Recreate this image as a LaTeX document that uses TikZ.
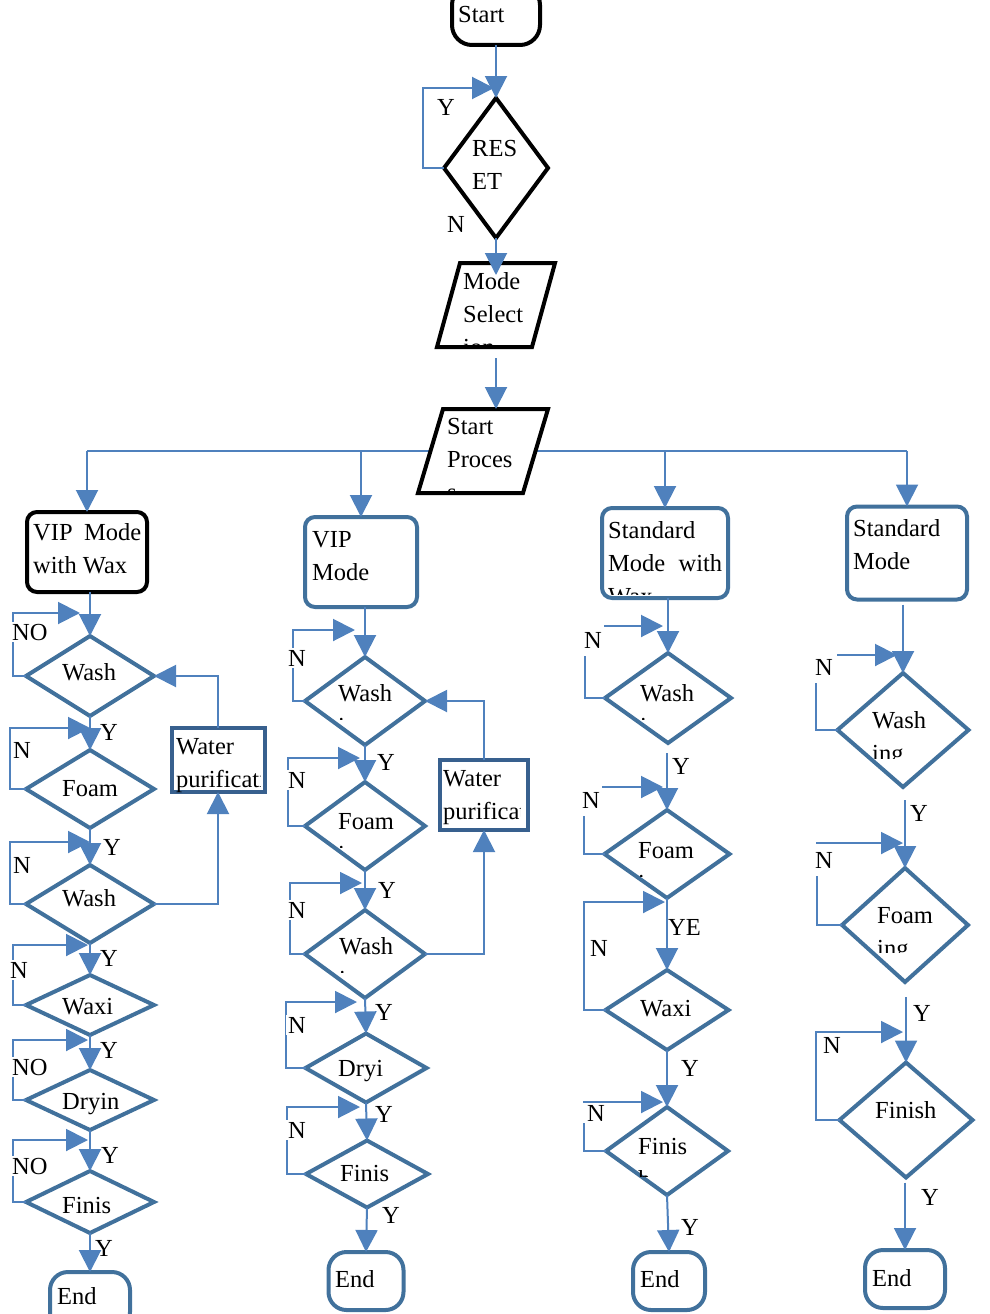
\documentclass[tikz,border=0pt]{standalone}
\usepackage{fontspec}
\setmainfont{Liberation Serif}
\usetikzlibrary{positioning,shapes.geometric,arrows.meta,backgrounds}
\definecolor{ArrBlue}{RGB}{79,129,189}
\definecolor{EdgeBlue}{RGB}{65,113,156}
\definecolor{BoxBlue}{RGB}{56,96,142}
\tikzset{
  every node/.style={font=\fontsize{24.5}{33}\selectfont},
  term/.style={draw=black,line width=4pt,fill=white,rounded corners=20pt,inner sep=0pt,outer sep=0pt},
  endterm/.style={term,draw=EdgeBlue,rounded corners=18pt},
  dec/.style={diamond,draw=EdgeBlue,line width=4pt,fill=white,inner sep=0pt,outer sep=0pt},
  io/.style={transform shape,draw=black,line width=4pt,fill=white,inner sep=0pt,outer sep=0pt},
  modebox/.style={draw=EdgeBlue,line width=4pt,fill=white,rounded corners=10pt,inner sep=0pt,outer sep=0pt},
  procbox/.style={draw=BoxBlue,line width=4pt,fill=white,inner sep=0pt,outer sep=0pt},
  txt/.style={anchor=base west,inner sep=0pt,align=left},
  arr/.style={draw=ArrBlue,line width=2pt,-{Triangle[length=22pt,width=22pt]}},
  bus/.style={draw=ArrBlue,line width=2pt},
  ylab/.style={anchor=base west,inner sep=0pt},
  nlab/.style={anchor=base west,inner sep=2pt,fill=white},
}

\begin{document}
\begin{tikzpicture}[x=1pt,y=-1pt]
\useasboundingbox (0,0) rectangle (990,1314);
% start, reset and mode selection
\node[term,minimum width=88pt,minimum height=60pt] (start) at (496,15) {};
\node[dec,draw=black,minimum width=104pt,minimum height=140pt] (reset) at (496,168) {};
\begin{scope}[shift={(496,305)},xslant=0.274]
\node[io,minimum width=95pt,minimum height=84pt] (ms) at (0,0) {};
\end{scope}
\begin{scope}[shift={(483,451)},xslant=0.298]
\node[io,minimum width=105pt,minimum height=84pt] (sp) at (0,0) {};
\end{scope}
\node[txt] (startt) at (458,23) {Start};
\node[txt] (resett) at (472,189) {RES\\ET};
\begin{scope}
\clip (437,263) rectangle (560,345);
\node[txt] (mst) at (463,355) {Mode\\Select\\ion};
\end{scope}
\begin{scope}
\clip (418,409) rectangle (548,491);
\node[txt] (spt) at (447,500) {Start\\Proces\\s};
\end{scope}
\coordinate (resetin) at (494,88);
\draw[arr] (start.south) -- (reset.north);
\draw[arr] (reset.west) -- ++(-21,0) |- (resetin);
\draw[arr,shorten >=-12pt] (reset.south) -- (reset.south |- ms.north);
\draw[arr,shorten <=11pt] (reset.south |- ms.south) -- (reset.south |- sp.north);
\node[ylab] (ry) at (437,115) {Y};
\node[ylab] (rn) at (447,232) {N};

% the four modes
\node[modebox,draw=black,minimum width=120pt,minimum height=80pt] (m1) at (87,552) {};
\node[modebox,minimum width=112pt,minimum height=90pt] (m2) at (361,562) {};
\node[modebox,minimum width=126pt,minimum height=90pt] (m3) at (665,553) {};
\node[modebox,minimum width=120pt,minimum height=93pt] (m4) at (907,553) {};
\node[txt] (m1t) at (33,573) {\makebox[108pt][s]{VIP Mode}\\with Wax};
\node[txt] (m2t) at (312,580) {VIP\\Mode};
\begin{scope}
\clip (602,508) rectangle (728,594);
\node[txt] (m3t) at (608,604) {Standard\\\makebox[114pt][s]{Mode with}\\Wax};
\end{scope}
\node[txt] (m4t) at (853,569) {Standard\\Mode};
\begin{scope}[on background layer]
\draw[bus] (m1.north |- sp.center) -- (m4.north |- sp.center);
\end{scope}
\draw[arr] (m1.north |- sp.center) -- (m1.north);
\draw[arr] (m2.north |- sp.center) -- (m2.north);
\draw[arr] (m3.north |- sp.center) -- (m3.north);
\draw[arr] (m4.north |- sp.center) -- (m4.north);

% VIP mode with wax
\node[dec,minimum width=128pt,minimum height=80pt] (w1) at (90,676) {};
\node[dec,minimum width=128pt,minimum height=78pt] (f1) at (90,789) {};
\node[dec,minimum width=128pt,minimum height=78pt] (w1b) at (90,904) {};
\node[dec,minimum width=128pt,minimum height=60pt] (x1) at (90,1005) {};
\node[dec,minimum width=128pt,minimum height=60pt] (d1) at (90,1100) {};
\node[dec,minimum width=128pt,minimum height=62pt] (fi1) at (90,1202) {};
\node[endterm,minimum width=80pt,minimum height=58pt] (e1) at (90,1301) {};
\node[procbox,minimum width=93pt,minimum height=64pt] (wp1) at (218,760) {};
\node[txt] (w1t) at (62,680) {Wash};
\node[txt] (f1t) at (62,796) {Foam};
\node[txt] (w1bt) at (62,906) {Wash};
\node[txt] (x1t) at (62,1014) {Waxi};
\node[txt] (d1t) at (62,1109) {Dryin};
\node[txt] (fi1t) at (62,1213) {Finis};
\node[txt] (e1t) at (57,1304) {End};
\begin{scope}
\clip (172,728) rectangle (260,792);
\node[txt] (wp1t) at (176,787) {Water\\purification};
\end{scope}
\coordinate (w1in) at (80,613);
\coordinate (f1in) at (90,728);
\coordinate (w1bin) at (90,842);
\coordinate (x1in) at (88,945);
\coordinate (d1in) at (88,1040);
\coordinate (fi1in) at (88,1140);
\draw[arr] (m1.south -| w1.north) -- (w1.north);
\draw[arr] (w1.south) -- (f1.north);
\draw[arr] (f1.south) -- (w1b.north);
\draw[arr] (w1b.south) -- (x1.north);
\draw[arr] (x1.south) -- (d1.north);
\draw[arr] (d1.south) -- (fi1.north);
\draw[arr] (fi1.south) -- (e1.north);
\draw[arr] (w1.west) -- ++(-13,0) |- (w1in);
\draw[arr] (f1.west) -- ++(-16,0) |- (f1in);
\draw[arr] (w1b.west) -- ++(-16,0) |- (w1bin);
\draw[arr] (x1.west) -- ++(-13,0) |- (x1in);
\draw[arr] (d1.west) -- ++(-13,0) |- (d1in);
\draw[arr] (fi1.west) -- ++(-13,0) |- (fi1in);
\draw[arr] (w1b.east) -| (wp1.south);
\draw[arr] (wp1.north) |- (w1.east);
\node[nlab] (w1n) at (10,640) {NO};
\node[ylab] (w1y) at (100,740) {Y};
\node[nlab] (f1n) at (11,758) {N};
\node[ylab] (f1y) at (103,855) {Y};
\node[nlab] (w1bn) at (11,873) {N};
\node[ylab] (w1by) at (100,966) {Y};
\node[nlab] (x1n) at (8,978) {N};
\node[ylab] (x1y) at (100,1058) {Y};
\node[nlab] (d1n) at (10,1075) {NO};
\node[ylab] (d1y) at (101,1163) {Y};
\node[nlab] (fi1n) at (10,1174) {NO};
\node[ylab] (fi1y) at (95,1256) {Y};

% VIP mode
\node[dec,minimum width=120pt,minimum height=88pt] (w2) at (365,701) {};
\node[dec,minimum width=120pt,minimum height=88pt] (f2) at (365,826) {};
\node[dec,minimum width=120pt,minimum height=88pt] (w2b) at (365,954) {};
\node[dec,minimum width=121pt,minimum height=69pt] (d2) at (366,1068) {};
\node[dec,minimum width=122pt,minimum height=67pt] (fi2) at (367,1174) {};
\node[endterm,minimum width=75pt,minimum height=58pt] (e2) at (366,1281) {};
\node[procbox,minimum width=88pt,minimum height=70pt] (wp2) at (484,795) {};
\begin{scope}
\clip (306,657) rectangle (425,719);
\node[txt] (w2t) at (338,734) {Wash\\ing};
\end{scope}
\begin{scope}
\clip (306,782) rectangle (425,847);
\node[txt] (f2t) at (338,862) {Foam\\ing};
\end{scope}
\begin{scope}
\clip (306,910) rectangle (425,972);
\node[txt] (w2bt) at (339,987) {Wash\\ing};
\end{scope}
\node[txt] (d2t) at (338,1076) {Dryi};
\node[txt] (fi2t) at (340,1181) {Finis};
\node[txt] (e2t) at (335,1287) {End};
\begin{scope}
\clip (440,760) rectangle (520,830);
\node[txt] (wp2t) at (443,819) {Water\\purification};
\end{scope}
\coordinate (w2in) at (355,630);
\coordinate (f2in) at (360,758);
\coordinate (w2bin) at (362,883);
\coordinate (d2in) at (357,1002);
\coordinate (fi2in) at (360,1107);
\draw[arr] (m2.south -| w2.north) -- (w2.north);
\draw[arr] (w2.south) -- (f2.north);
\draw[arr] (f2.south) -- (w2b.north);
\draw[arr] (w2b.south) -- (d2.north);
\draw[arr] (d2.south) -- (fi2.north);
\draw[arr] (fi2.south) -- (e2.north);
\draw[arr] (w2.west) -- ++(-12,0) |- (w2in);
\draw[arr] (f2.west) -- ++(-17,0) |- (f2in);
\draw[arr] (w2b.west) -- ++(-15,0) |- (w2bin);
\draw[arr] (d2.west) -- ++(-20,0) |- (d2in);
\draw[arr] (fi2.west) -- ++(-19,0) |- (fi2in);
\draw[arr] (w2b.east) -| (wp2.south);
\draw[arr] (wp2.north) |- (w2.east);
\node[nlab] (w2n) at (286,666) {N};
\node[ylab] (w2y) at (377,770) {Y};
\node[nlab] (f2n) at (286,788) {N};
\node[ylab] (f2y) at (378,898) {Y};
\node[nlab] (w2bn) at (286,918) {N};
\node[ylab] (w2by) at (375,1020) {Y};
\node[nlab] (d2n) at (286,1033) {N};
\node[ylab] (d2y) at (375,1122) {Y};
\node[nlab] (fi2n) at (286,1138) {N};
\node[ylab] (fi2y) at (382,1223) {Y};

% standard mode with wax
\node[dec,minimum width=126pt,minimum height=90pt] (w3) at (668,698) {};
\node[dec,minimum width=125pt,minimum height=88pt] (f3) at (667,854) {};
\node[dec,minimum width=123pt,minimum height=80pt] (x3) at (667,1010) {};
\node[dec,minimum width=122pt,minimum height=88pt] (fi3) at (667,1151) {};
\node[endterm,minimum width=72pt,minimum height=58pt] (e3) at (669,1281) {};
\begin{scope}
\clip (605,653) rectangle (731,719);
\node[txt] (w3t) at (640,734) {Wash\\ing};
\end{scope}
\begin{scope}
\clip (605,810) rectangle (730,876);
\node[txt] (f3t) at (638,891) {Foam\\ing};
\end{scope}
\node[txt] (x3t) at (640,1016) {Waxi};
\begin{scope}
\clip (606,1107) rectangle (728,1176);
\node[txt] (fi3t) at (638,1187) {Finis\\h};
\end{scope}
\node[txt] (e3t) at (640,1287) {End};
\coordinate (w3in) at (663,626);
\coordinate (f3in) at (663,787);
\coordinate (x3in) at (665,902);
\coordinate (fi3in) at (663,1102);
\draw[arr] (m3.south -| w3.north) -- (w3.north);
\draw[arr,shorten <=10pt] (w3.south -| f3.north) -- (f3.north);
\draw[arr] (f3.south) -- (x3.north);
\draw[arr] (x3.south) -- (fi3.north);
\draw[arr] (fi3.south) -- (e3.north);
\draw[arr] (w3.west) -- ++(-20,0) |- (w3in);
\draw[arr] (f3.west) -- ++(-21,0) |- (f3in);
\draw[arr] (x3.west) -- ++(-22,0) |- (x3in);
\draw[arr] (fi3.west) -- ++(-22,0) |- (fi3in);
\node[nlab,inner ysep=8pt] (w3n) at (582,648) {N};
\node[nlab,inner ysep=8pt] (f3n) at (580,808) {N};
\node[ylab] (f3y) at (672,774) {Y};
\node[ylab] (x3y) at (668,935) {YE};
\node[ylab] (x3n) at (590,956) {N};
\node[ylab] (fi3y) at (681,1076) {Y};
\node[nlab,inner xsep=5pt] (fi3n) at (582,1121) {N};
\node[ylab] (e3y) at (681,1235) {Y};

% standard mode
\node[dec,minimum width=131pt,minimum height=114pt] (wg4) at (903,730) {};
\node[dec,minimum width=126pt,minimum height=114pt] (fg4) at (905,925) {};
\node[dec,minimum width=133pt,minimum height=115pt] (fin4) at (906,1120) {};
\node[endterm,minimum width=80pt,minimum height=58pt] (e4) at (905,1279) {};
\begin{scope}
\clip (837,673) rectangle (968,758);
\node[txt] (wg4t) at (872,761) {Wash\\ing};
\end{scope}
\begin{scope}
\clip (842,868) rectangle (968,952);
\node[txt] (fg4t) at (877,956) {Foam\\ing};
\end{scope}
\node[txt] (fin4t) at (875,1118) {Finish};
\node[txt] (e4t) at (872,1286) {End};
\coordinate (wg4in) at (897,655);
\coordinate (fg4in) at (903,843);
\coordinate (fin4in) at (903,1032);
\draw[arr,shorten <=5pt] (m4.south -| wg4.north) -- (wg4.north);
\draw[arr,shorten <=13pt] (wg4.south -| fg4.north) -- (fg4.north);
\draw[arr,shorten <=15pt] (fg4.south -| fin4.north) -- (fin4.north);
\draw[arr,shorten <=5pt] (fin4.south -| e4.north) -- (e4.north);
\draw[arr] (wg4.west) -- ++(-22,0) |- (wg4in);
\draw[arr] (fg4.west) -- ++(-25,0) |- (fg4in);
\draw[arr] (fin4.west) -- ++(-24,0) |- (fin4in);
\node[nlab,inner ysep=8pt,inner xsep=4pt] (wg4n) at (811,675) {N};
\node[ylab] (wg4y) at (910,821) {Y};
\node[nlab,inner ysep=8pt] (fg4n) at (813,868) {N};
\node[ylab] (fg4y) at (913,1021) {Y};
\node[ylab] (fin4n) at (823,1053) {N};
\node[ylab] (fin4y) at (921,1205) {Y};
\end{tikzpicture}
\end{document}
